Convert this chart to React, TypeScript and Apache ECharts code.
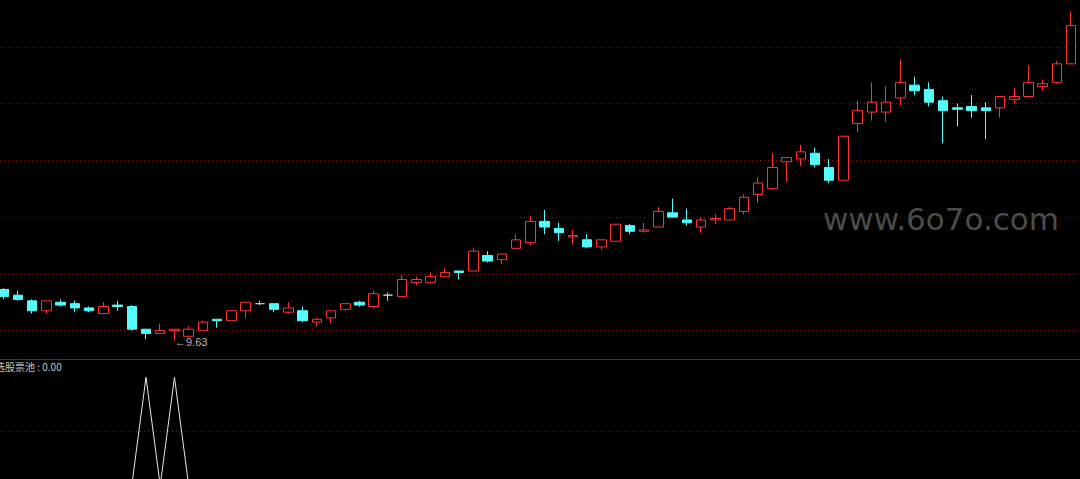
import React, { useEffect, useRef } from 'react';
import * as echarts from 'echarts';

// Trading day index (0 = first visible day)
const days: number[] = Array.from({ length: 76 }, (_, i) => i);

const opens = [
  9.99, 9.95, 9.91, 9.84, 9.90, 9.89, 9.86, 9.82, 9.88, 9.87,
  9.71, 9.68, 9.70, 9.66, 9.70, 9.78, 9.77, 9.84, 9.89, 9.89,
  9.83, 9.84, 9.76, 9.79, 9.85, 9.90, 9.87, 9.95, 9.94, 10.04,
  10.04, 10.08, 10.12, 10.12, 10.23, 10.20, 10.28, 10.32, 10.47, 10.42,
  10.36, 10.34, 10.29, 10.33, 10.44, 10.40, 10.43, 10.53, 10.48, 10.43,
  10.48, 10.48, 10.54, 10.66, 10.70, 10.89, 10.91, 10.95, 10.85, 10.76,
  11.16, 11.24, 11.24, 11.34, 11.43, 11.40, 11.32, 11.27, 11.28, 11.27,
  11.27, 11.33, 11.35, 11.42, 11.45, 11.58,
];
const closes = [
  9.94, 9.92, 9.84, 9.91, 9.88, 9.86, 9.84, 9.87, 9.87, 9.71,
  9.68, 9.70, 9.71, 9.71, 9.76, 9.77, 9.84, 9.90, 9.89, 9.85,
  9.86, 9.77, 9.78, 9.84, 9.89, 9.88, 9.96, 9.95, 10.06, 10.06,
  10.08, 10.11, 10.11, 10.26, 10.19, 10.24, 10.34, 10.47, 10.43, 10.39,
  10.37, 10.29, 10.34, 10.45, 10.40, 10.41, 10.54, 10.50, 10.46, 10.48,
  10.49, 10.56, 10.64, 10.74, 10.85, 10.92, 10.96, 10.87, 10.76, 11.07,
  11.25, 11.31, 11.31, 11.45, 11.39, 11.31, 11.25, 11.26, 11.25, 11.25,
  11.35, 11.35, 11.45, 11.44, 11.58, 11.85,
];
const lows = [
  9.92, 9.91, 9.82, 9.82, 9.87, 9.83, 9.83, 9.82, 9.84, 9.70,
  9.64, 9.68, 9.63, 9.66, 9.70, 9.72, 9.77, 9.79, 9.88, 9.83,
  9.82, 9.76, 9.73, 9.75, 9.84, 9.87, 9.86, 9.91, 9.94, 10.02,
  10.03, 10.08, 10.06, 10.12, 10.18, 10.17, 10.28, 10.30, 10.38, 10.33,
  10.31, 10.28, 10.27, 10.33, 10.38, 10.39, 10.43, 10.50, 10.44, 10.39,
  10.45, 10.48, 10.52, 10.60, 10.69, 10.75, 10.86, 10.85, 10.74, 10.76,
  11.10, 11.18, 11.17, 11.29, 11.36, 11.28, 11.02, 11.14, 11.20, 11.05,
  11.20, 11.30, 11.35, 11.39, 11.44, 11.58,
];
const highs = [
  10.00, 9.98, 9.92, 9.91, 9.92, 9.91, 9.87, 9.90, 9.91, 9.88,
  9.71, 9.75, 9.71, 9.73, 9.77, 9.78, 9.84, 9.90, 9.91, 9.89,
  9.90, 9.87, 9.79, 9.84, 9.89, 9.91, 9.98, 9.97, 10.09, 10.08,
  10.11, 10.14, 10.12, 10.28, 10.26, 10.24, 10.38, 10.51, 10.55, 10.46,
  10.41, 10.38, 10.34, 10.45, 10.45, 10.46, 10.57, 10.63, 10.56, 10.50,
  10.52, 10.57, 10.66, 10.78, 10.95, 10.92, 11.01, 10.99, 10.91, 11.07,
  11.32, 11.45, 11.42, 11.61, 11.49, 11.45, 11.35, 11.30, 11.36, 11.31,
  11.35, 11.41, 11.57, 11.47, 11.60, 11.95,
];

// 选股票池 signal (lower panel)
const signalVals = [
  0, 0, 0, 0, 0, 0, 0, 0, 0, 0,
  1, 0, 1, 0, 0, 0, 0, 0, 0, 0,
  0, 0, 0, 0, 0, 0, 0, 0, 0, 0,
  0, 0, 0, 0, 0, 0, 0, 0, 0, 0,
  0, 0, 0, 0, 0, 0, 0, 0, 0, 0,
  0, 0, 0, 0, 0, 0, 0, 0, 0, 0,
  0, 0, 0, 0, 0, 0, 0, 0, 0, 0,
  0, 0, 0, 0, 0, 0,
];

// reference levels (dotted lines)
const priceLevels = [9.7, 10.1, 10.5, 10.9, 11.3, 11.7];
const signalLevels = [0.5];

// visible day window (first day is partly cut off at the left edge)
const dayMin = -0.2564;
const dayMax = 75.618;

const UP = '#ff3232';
const DOWN = '#54fcfc';
const DOJI = '#c8c8c8';

export default function App() {
  const ref = useRef<HTMLDivElement>(null);

  useEffect(() => {
    document.body.style.margin = '0';
    document.body.style.background = '#000';
    if (!ref.current) return;
    const chart = echarts.init(ref.current, null, { renderer: 'svg' });

    const kData = days.map((d, i) => {
      const item: any = { value: [d, opens[i], closes[i], lows[i], highs[i]] };
      if (opens[i] === closes[i]) {
        item.itemStyle = { color: DOJI, borderColor: DOJI, color0: DOJI, borderColor0: DOJI };
      }
      return item;
    });
    const sData = days.map((d, i) => [d, signalVals[i]]);

    const dotted = (color: string) => ({
      type: [1, 3] as any,
      color,
      width: 1,
    });

    const option: any = {
      animation: false,
      backgroundColor: '#000000',
      tooltip: { show: false },
      grid: [
        { left: 0, top: 0, width: 1080, height: 359 },
        { left: 0, top: 360, width: 1080, height: 119 },
      ],
      xAxis: [
        {
          type: 'value',
          gridIndex: 0,
          min: dayMin,
          max: dayMax,
          axisLine: { show: true, onZero: false, lineStyle: { color: '#c00000', width: 1 } },
          axisTick: { show: false },
          axisLabel: { show: false },
          splitLine: { show: false },
        },
        {
          type: 'value',
          gridIndex: 1,
          min: dayMin,
          max: dayMax,
          show: false,
        },
      ],
      yAxis: [
        { type: 'value', gridIndex: 0, min: 9.5, max: 12.03, show: false },
        { type: 'value', gridIndex: 1, min: 0.06, max: 1.16, show: false },
      ],
      series: [
        {
          type: 'candlestick',
          xAxisIndex: 0,
          yAxisIndex: 0,
          z: 3,
          dimensions: ['day', 'open', 'close', 'lowest', 'highest'],
          encode: { x: 0, y: [1, 2, 3, 4] },
          data: kData,
          barWidth: 10,
          itemStyle: {
            color: '#000000',
            color0: DOWN,
            borderColor: UP,
            borderColor0: DOWN,
            borderWidth: 1,
          },
          emphasis: { disabled: true },
          markLine: {
            z: 1,
            silent: true,
            symbol: ['none', 'none'],
            label: { show: false },
            emphasis: { disabled: true },
            lineStyle: dotted('#8c1010'),
            data: priceLevels.map((v) => ({ yAxis: v })),
          },
          markPoint: {
            z: 6,
            silent: true,
            symbol: 'circle',
            symbolSize: 1,
            itemStyle: { color: 'rgba(0,0,0,0)' },
            data: [{ type: 'min', valueDim: 'lowest' }],
            label: {
              show: true,
              position: 'right',
              distance: 0,
              offset: [0, 1],
              color: '#b4b4b4',
              fontSize: 11,
              fontFamily: 'Liberation Sans, Arial, sans-serif',
              formatter: (p: any) => '←' + Number(p.value).toFixed(2),
            },
          },
        },
        {
          type: 'line',
          xAxisIndex: 1,
          yAxisIndex: 1,
          z: 3,
          data: sData,
          symbol: 'none',
          clip: true,
          lineStyle: { color: '#e6e6e6', width: 1 },
          emphasis: { disabled: true },
          markLine: {
            z: 1,
            silent: true,
            symbol: ['none', 'none'],
            label: { show: false },
            emphasis: { disabled: true },
            lineStyle: dotted('#8c1010'),
            data: signalLevels.map((v) => ({ yAxis: v })),
          },
        },
      ],
      graphic: [
        {
          type: 'text',
          x: 823,
          y: 219,
          z: 0,
          silent: true,
          style: {
            text: 'www.6o7o.com',
            fill: '#4c4c4c',
            fontSize: 31,
            fontFamily: 'DejaVu Sans',
            verticalAlign: 'middle',
          },
        },
        {
          type: 'text',
          x: -5,
          y: 366,
          z: 10,
          silent: true,
          style: {
            text: `选股票池 : ${signalVals[signalVals.length - 1].toFixed(2)}`,
            fill: '#c8c8c8',
            fontSize: 10,
            fontFamily: '"Noto Sans CJK SC", sans-serif',
            verticalAlign: 'middle',
          },
        },
      ],
    };

    chart.setOption(option);
    return () => chart.dispose();
  }, []);

  return (
    <div style={{ position: 'fixed', left: 0, top: 0, width: 1080, height: 479, background: '#000' }}>
      <div ref={ref} style={{ width: 1080, height: 479 }} />
    </div>
  );
}
